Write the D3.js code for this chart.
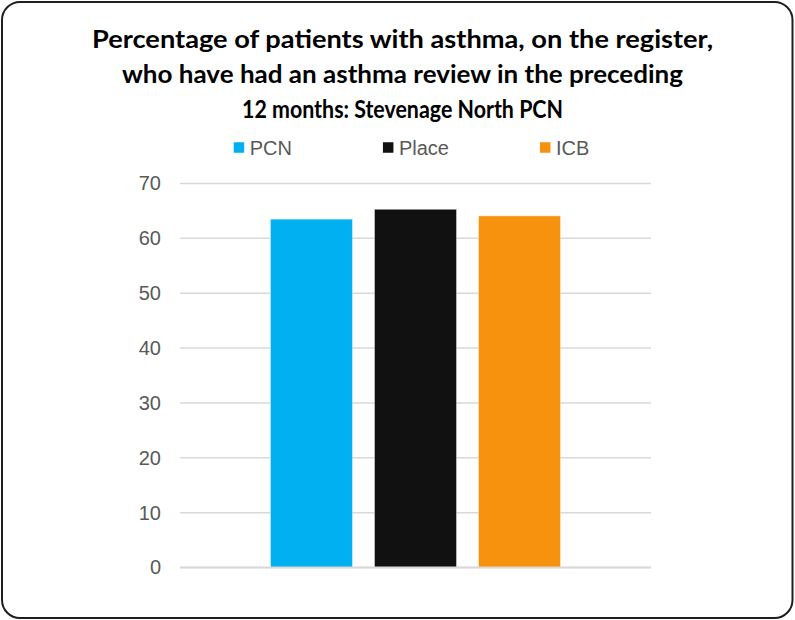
<!DOCTYPE html>
<html>
<head>
<meta charset="utf-8">
<script src="https://cdn.jsdelivr.net/npm/d3@7"></script>
<style>
  html, body { margin: 0; padding: 0; background: #ffffff; }
  svg { display: block; }
</style>
</head>
<body>
<svg id="chart" width="795" height="620"></svg>
<script>
// ---- Data ----
const titleLines = [
  "Percentage of patients with asthma, on the register,",
  "who have had an asthma review in the preceding",
  "12 months: Stevenage North PCN"
];
const categories = ["Stevenage North PCN"];
const seriesNames = ["PCN", "Place", "ICB"];
const seriesValues = [63.5, 65.3, 64.1];
const seriesColors = ["#00B0F0", "#111111", "#F7920F"];
const yTicks = [0, 10, 20, 30, 40, 50, 60, 70];

// ---- Layout ----
const W = 795, H = 620;
const plot = { left: 180, right: 651, top: 183.5, bottom: 567.5 };
const textGray = "#595959";
const gridGray = "#D9D9D9";

const svg = d3.select("#chart");

// Outer border
svg.append("rect")
  .attr("x", 2).attr("y", 2)
  .attr("width", W - 4.5).attr("height", H - 4)
  .attr("rx", 18).attr("ry", 18)
  .attr("fill", "#ffffff")
  .attr("stroke", "#1f1f1f").attr("stroke-width", 2);

// Title
const titleBaselines = [48, 82.5, 117.5];
const titleWidths = [621, 561, 321];
const titleCenter = 402.5;
svg.append("g").selectAll("text")
  .data(titleLines)
  .join("text")
  .attr("x", titleCenter)
  .attr("y", (d, i) => titleBaselines[i])
  .attr("text-anchor", "middle")
  .attr("font-family", "Lato, 'Open Sans', sans-serif")
  .attr("font-weight", "bold")
  .attr("font-size", 25)
  .attr("fill", "#000000")
  .attr("textLength", (d, i) => titleWidths[i])
  .attr("lengthAdjust", "spacingAndGlyphs")
  .text(d => d);

// Scales
const y = d3.scaleLinear().domain([0, 70]).range([plot.bottom, plot.top]);
const x0 = d3.scaleBand().domain(categories).range([plot.left, plot.right])
  .paddingInner(0).paddingOuter(0.312);
const x1 = d3.scaleBand().domain(seriesNames).range([0, x0.bandwidth()])
  .paddingInner(0.2115).paddingOuter(0);

// Gridlines
svg.append("g").selectAll("line")
  .data(yTicks)
  .join("line")
  .attr("x1", plot.left).attr("x2", plot.right)
  .attr("y1", d => y(d)).attr("y2", d => y(d))
  .attr("stroke", gridGray)
  .attr("stroke-width", 1.5);

// Y axis labels
const yAxis = d3.axisLeft(y).tickValues(yTicks).tickSize(0).tickPadding(0);
const yg = svg.append("g")
  .attr("transform", `translate(161,0)`)
  .call(yAxis);
yg.select(".domain").remove();
yg.selectAll("text")
  .attr("font-family", "'Liberation Sans', Arial, sans-serif")
  .attr("font-size", 20)
  .attr("fill", textGray);

// Bars
const barData = seriesNames.map((s, i) => ({ cat: categories[0], name: s, value: seriesValues[i], color: seriesColors[i] }));
svg.append("g").selectAll("rect")
  .data(barData)
  .join("rect")
  .attr("x", d => x0(d.cat) + x1(d.name))
  .attr("y", d => y(d.value))
  .attr("width", x1.bandwidth())
  .attr("height", d => y(0) - y(d.value))
  .attr("fill", d => d.color)
  .attr("stroke", "#ffffff")
  .attr("stroke-opacity", 0.4)
  .attr("stroke-width", 1);

// Axis baseline
svg.append("line")
  .attr("x1", plot.left).attr("x2", plot.right)
  .attr("y1", y(0)).attr("y2", y(0))
  .attr("stroke", gridGray).attr("stroke-width", 2);

// Legend
const legendY = 147.5;
const sq = 10.5, sqGap = 5.5, itemGap = 91;
const lg = svg.append("g");
const items = lg.selectAll("g").data(seriesNames).join("g");
items.append("rect")
  .attr("width", sq).attr("height", sq)
  .attr("y", legendY - sq / 2)
  .attr("fill", (d, i) => seriesColors[i]);
items.append("text")
  .attr("x", sq + sqGap)
  .attr("y", legendY)
  .attr("dominant-baseline", "central")
  .attr("font-family", "'Liberation Sans', Arial, sans-serif")
  .attr("font-size", 20)
  .attr("fill", textGray)
  .text(d => d);
let cursor = 0;
const offsets = [];
items.each(function () {
  const w = sq + sqGap + d3.select(this).select("text").node().getComputedTextLength();
  offsets.push(cursor);
  cursor += w + itemGap;
});
const totalW = cursor - itemGap;
const legendCenter = 411.5;
const startX = legendCenter - totalW / 2;
items.attr("transform", (d, i) => `translate(${startX + offsets[i]},0)`);
</script>
</body>
</html>
